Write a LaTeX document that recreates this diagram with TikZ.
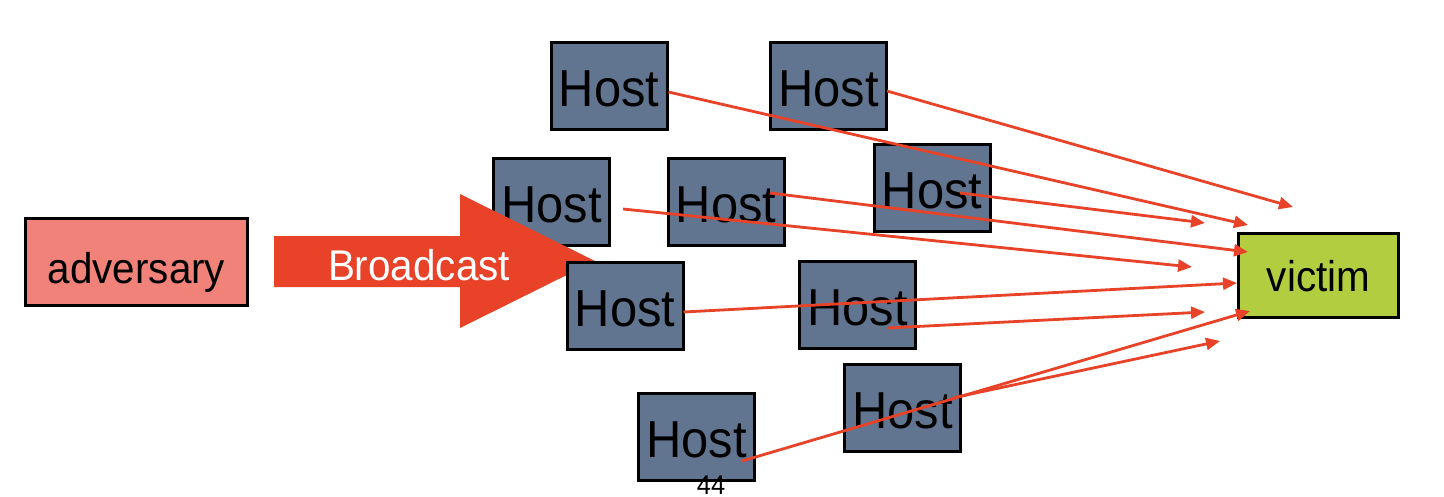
\documentclass[tikz,border=0pt]{standalone}
\usepackage{fontspec}
\setmainfont[FakeStretch=0.94]{Liberation Sans}
\usetikzlibrary{arrows.meta,calc}
\definecolor{hostfill}{RGB}{97,117,144}
\definecolor{advfill}{RGB}{240,130,122}
\definecolor{vicfill}{RGB}{178,206,64}
\definecolor{attack}{RGB}{232,66,40}
\tikzset{
  hostbox/.style={draw=black, line width=3pt, fill=hostfill, minimum width=116pt, minimum height=87pt,
    inner sep=0pt, font=\fontsize{52}{52}\selectfont, text height=41.2pt, text depth=0pt},
  advbox/.style={draw=black, line width=3pt, fill=advfill, minimum width=222pt, minimum height=87pt,
    inner sep=0pt, font=\fontsize{43}{43}\selectfont, text height=42.6pt, text depth=0pt},
  vicbox/.style={draw=black, line width=3pt, fill=vicfill, minimum width=160pt, minimum height=84pt,
    inner sep=0pt, font=\fontsize{43}{43}\selectfont, text height=32.4pt, text depth=0pt},
  flood/.style={draw=attack, line width=2.8pt, -{Triangle[length=14pt,width=12pt]}},
  bigarrow/.style={fill=attack, draw=none},
}
\begin{document}
\begin{tikzpicture}[x=1pt,y=-1pt]
\useasboundingbox (0,0) rectangle (1444,496);
% hosts below the broadcast arrow
\node[hostbox] (h1) at (609,86) {Host};
\node[hostbox] (h2) at (828.5,86) {Host};
\node[hostbox] (h3) at (551.5,202) {Host};
\node[hostbox] (h4) at (726,202) {Host};
\node[hostbox] (h5) at (932,188) {Host};
% broadcast arrow
\fill[bigarrow] (274,236) -- (460,236) -- (460,194) -- (595,261) -- (460,328) -- (460,287) -- (274,287) -- cycle;
\node[anchor=base, text=white, font=\fontsize{43}{43}\selectfont, inner sep=0pt] (bc) at (419,280) {Broadcast};
% hosts above the broadcast arrow
\node[hostbox] (h6) at (625,305.5) {Host};
\node[hostbox] (h7) at (857.5,305) {Host};
\node[hostbox] (h8) at (902.5,407.5) {Host};
\node[hostbox] (h9) at (696.5,436.5) {Host};
% adversary and victim
\node[advbox] (adv) at (136.5,262) {adversary};
\node[vicbox] (vic) at (1318.5,275.5) {victim};
% arrow ends near the victim
\coordinate (e1) at (1248,225);
\coordinate (e2) at (1293,207);
\coordinate (e3) at (1205,223);
\coordinate (e4) at (1248,252);
\coordinate (e5) at (1192,267);
\coordinate (e6) at (1237,283);
\coordinate (e7) at (1205,312);
\coordinate (e8) at (1250,311);
\coordinate (e9) at (1220,341);
% flood connectors
\draw[flood] ($(h1.east)+(0,6)$) -- (e1);
\draw[flood] ($(h2.east)+(-1,5)$) -- (e2);
\draw[flood] ($(h5.center)+(28,5)$) -- (e3);
\draw[flood] ($(h4.center)+(44,-9)$) -- (e4);
\draw[flood] ($(h3.center)+(71.5,7)$) -- (e5);
\draw[flood] ($(h6.east)+(-1,6.5)$) -- (e6);
\draw[flood] ($(h7.center)+(29.5,23)$) -- (e7);
\draw[flood] ($(h9.center)+(45.5,24.5)$) -- (e8);
\draw[flood] ($(h8.center)+(52,-10)$) -- (e9);
% page number
\node[anchor=base, font=\fontsize{27}{27}\selectfont, inner sep=0pt] (pg) at (711,494) {44};
\end{tikzpicture}
\end{document}
